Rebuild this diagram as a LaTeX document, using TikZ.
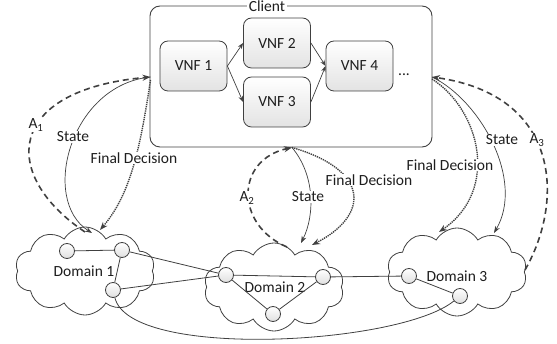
\documentclass[tikz,border=0pt]{standalone}
\usepackage{fontspec}
\setmainfont{Carlito}
\usetikzlibrary{shapes.symbols,arrows.meta}
\definecolor{ln}{HTML}{404040}
\definecolor{tx}{HTML}{1E1E1E}
\begin{document}
\begin{tikzpicture}[x=1pt,y=-1pt,font=\fontsize{15.5}{18}\selectfont,text=tx,
  clientbox/.style={draw=ln,rounded corners=10pt,line width=0.9pt,minimum width=282pt,minimum height=141pt,inner sep=0pt},
  vnf/.style={draw=ln,rounded corners=8pt,top color=white,bottom color=gray!22,minimum width=67pt,minimum height=50pt,line width=0.8pt,inner sep=0pt},
  dom/.style={cloud,cloud puffs=10,cloud puff arc=120,aspect=1.6,draw=ln,fill=white,line width=0.8pt,minimum width=140pt,minimum height=88pt,inner sep=0pt},
  hub/.style={circle,draw=ln,top color=white,bottom color=gray!25,minimum size=15pt,inner sep=0pt,line width=0.8pt},
  link/.style={draw=ln,line width=0.8pt},
  vflow/.style={draw=ln,line width=0.7pt,-{Stealth[length=6pt,width=4.5pt]}},
  aflow/.style={draw=ln,line width=1.6pt,dash pattern=on 6pt off 4pt,-{Stealth[length=8pt,width=6pt]}},
  sflow/.style={draw=ln,line width=0.7pt,-{Stealth[length=7pt,width=5pt]}},
  fflow/.style={draw=ln,line width=1.4pt,dash pattern=on 1.3pt off 0.9pt,-{Stealth[length=8pt,width=6pt]}},
  lbl/.style={fill=white,inner sep=1pt}]
\useasboundingbox (0,0) rectangle (557,344);

% client
\node[clientbox] (client) at (291,76.5) {};
\node[fill=white,inner sep=2pt] (clientlbl) at (267,6) {Client};
\node[vnf] (v1) at (193.5,66) {VNF 1};
\node[vnf] (v2) at (277,43) {VNF 2};
\node[vnf] (v3) at (277,102) {VNF 3};
\node[vnf] (v4) at (359.5,66) {VNF 4};
\node (dots) at (404,75) {...};
\draw[vflow] (v1.east) -- (v2.west);
\draw[vflow] (v1.east) -- (v3.west);
\draw[vflow] (v2.east) -- (v4.west);
\draw[vflow] (v3.east) -- (v4.west);

% domains
\node[dom] (dom1) at (85,271) {};
\node[dom] (dom2) at (274,287) {};
\node[dom] (dom3) at (457,272) {};
\node (dl1) at (84,271) {Domain 1};
\node (dl2) at (275,287) {Domain 2};
\node (dl3) at (457,276) {Domain 3};

\node[hub] (d1a) at (67,251) {};
\node[hub] (d1b) at (122,250) {};
\node[hub] (d1c) at (113,290) {};
\node[hub] (d2a) at (226,275) {};
\node[hub] (d2b) at (323,277) {};
\node[hub] (d2c) at (273,314) {};
\node[hub] (d3a) at (409,276) {};
\node[hub] (d3b) at (460,296) {};

\draw[link] (d1a) -- (d1b);
\draw[link] (d1b) -- (d1c);
\draw[link] (d1b) -- (d2a);
\draw[link] (d1c) -- (d2a);
\draw[link] (d2a) -- (d2b);
\draw[link] (d2a) -- (d2c);
\draw[link] (d2b) -- (d2c);
\draw[link] (d2b) -- (d3a);
\draw[link] (d3a) -- (d3b);
\draw[link] (d1c) .. controls (130,360) and (400,345) .. (d3b);

% attach points
\coordinate (p1a) at (85,232);
\coordinate (p1s) at (92,233);
\coordinate (p1f) at (100,230);
\coordinate (p2a) at (287,247);
\coordinate (p2s) at (301,243);
\coordinate (p2f) at (312,245);
\coordinate (p3a) at (525,270);
\coordinate (p3s) at (494,233);
\coordinate (p3f) at (439,232);
\coordinate (cw) at (150.5,77);
\coordinate (cwf) at (150.5,80);
\coordinate (cs) at (292,147.5);
\coordinate (ce) at (432,77);
\coordinate (cef) at (432,79);

% domain 1 flows
\draw[aflow] (p1a) .. controls (0,175) and (5,90) .. (cw);
\draw[sflow] (cw) .. controls (70,85) and (40,200) .. (p1s);
\draw[fflow] (cwf) .. controls (140,150) and (130,195) .. (p1f);
% domain 2 flows
\draw[aflow] (p2a) .. controls (235,225) and (235,160) .. (cs);
\draw[sflow] (cs) .. controls (315,175) and (315,215) .. (p2s);
\draw[fflow] (cs) .. controls (370,170) and (370,215) .. (p2f);
% domain 3 flows
\draw[aflow] (p3a) .. controls (565,200) and (560,95) .. (ce);
\draw[sflow] (ce) .. controls (480,100) and (525,180) .. (p3s);
\draw[fflow] (cef) .. controls (480,110) and (500,190) .. (p3f);

% labels
\node[lbl] (la1) at (36,125) {A\textsubscript{1}};
\node[lbl] (ls1) at (73,137) {State};
\node[lbl] (lf1) at (134,158) {Final Decision};
\node[lbl] (la2) at (247,198) {A\textsubscript{2}};
\node[lbl] (ls2) at (308,197) {State};
\node[lbl] (lf2) at (369,180) {Final Decision};
\node[lbl] (la3) at (537,140) {A\textsubscript{3}};
\node[lbl] (ls3) at (502,140) {State};
\node[lbl] (lf3) at (450,165) {Final Decision};
\end{tikzpicture}
\end{document}
